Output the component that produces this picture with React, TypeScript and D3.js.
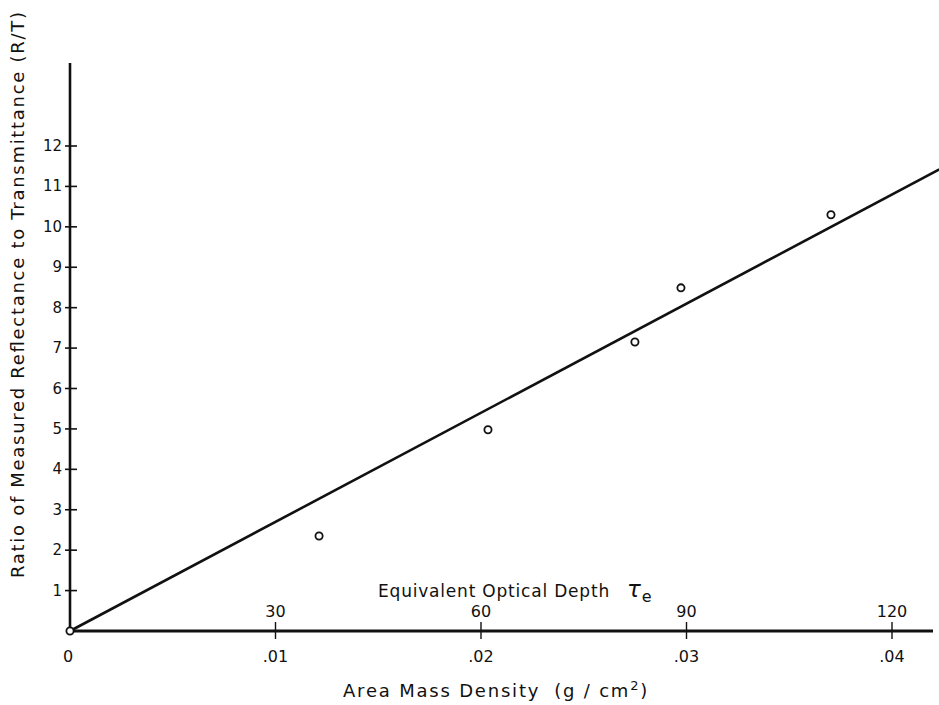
import React, { useEffect, useRef } from 'react';
import * as d3 from 'd3';

// measured R/T against area mass density (g/cm^2)
const massDensity = [0, 0.01212, 0.02034, 0.02749, 0.02973, 0.03703];
const ratioRT = [0, 2.35, 4.98, 7.15, 8.49, 10.3];

// fitted straight line through the origin
const fitMass = [0, 0.0423];
const fitRatio = [0, 11.42];

const yTicks = [1, 2, 3, 4, 5, 6, 7, 8, 9, 10, 11, 12];
const massTicks = [0.01, 0.02, 0.03, 0.04];
const massTickLabels = ['.01', '.02', '.03', '.04'];
const tauTickLabels = ['30', '60', '90', '120'];

export default function App() {
  const svgRef = useRef<SVGSVGElement>(null);

  useEffect(() => {
    if (!svgRef.current) return;
    const svg = d3.select(svgRef.current);
    svg.selectAll('*').remove();

    const width = 939;
    const height = 705;
    const font = '"DejaVu Sans", "Liberation Sans", sans-serif';

    const x = d3.scaleLinear().domain([0, 0.04]).range([70, 892]);
    const y = d3.scaleLinear().domain([0, 12]).range([631, 146]);

    svg.append('rect').attr('width', width).attr('height', height).attr('fill', '#fff');

    const g = svg.append('g').attr('fill', '#111').attr('stroke', '#111');

    // y axis
    g.append('line')
      .attr('x1', x(0)).attr('x2', x(0))
      .attr('y1', y(0)).attr('y2', 63)
      .attr('stroke-width', 2.6);

    // x axis
    g.append('line')
      .attr('x1', x(0)).attr('x2', 933)
      .attr('y1', y(0)).attr('y2', y(0))
      .attr('stroke-width', 3);

    // y ticks
    yTicks.forEach(t => {
      g.append('line')
        .attr('x1', x(0) - 5).attr('x2', x(0) + 7)
        .attr('y1', y(t)).attr('y2', y(t))
        .attr('stroke-width', 1.6);
      g.append('text')
        .attr('x', x(0) - 8)
        .attr('y', y(t) + 5)
        .attr('text-anchor', 'end')
        .attr('stroke', 'none')
        .attr('font-family', font)
        .attr('font-size', 15)
        .text(String(t));
    });

    // x ticks, mass below, optical depth above
    massTicks.forEach((t, i) => {
      g.append('line')
        .attr('x1', x(t)).attr('x2', x(t))
        .attr('y1', y(0) - 9).attr('y2', y(0) + 8)
        .attr('stroke-width', 1.4);
      g.append('text')
        .attr('x', x(t))
        .attr('y', y(0) + 31)
        .attr('text-anchor', 'middle')
        .attr('stroke', 'none')
        .attr('font-family', font)
        .attr('font-size', 16)
        .text(massTickLabels[i]);
      g.append('text')
        .attr('x', x(t))
        .attr('y', y(0) - 14)
        .attr('text-anchor', 'middle')
        .attr('stroke', 'none')
        .attr('font-family', font)
        .attr('font-size', 16)
        .text(tauTickLabels[i]);
    });

    g.append('text')
      .attr('x', x(0) - 2)
      .attr('y', y(0) + 31)
      .attr('text-anchor', 'middle')
      .attr('stroke', 'none')
      .attr('font-family', font)
      .attr('font-size', 16)
      .text('0');

    // fitted line
    const line = d3.line<number>()
      .x(d => x(fitMass[d]))
      .y(d => y(fitRatio[d]));
    g.append('path')
      .datum([0, 1])
      .attr('d', line)
      .attr('fill', 'none')
      .attr('stroke-width', 2.6);

    // measured points
    g.selectAll('circle.pt')
      .data(massDensity.map((m, i) => ({ m, r: ratioRT[i] })))
      .enter()
      .append('circle')
      .attr('class', 'pt')
      .attr('cx', d => x(d.m))
      .attr('cy', d => y(d.r))
      .attr('r', 3.6)
      .attr('fill', '#fff')
      .attr('stroke-width', 1.8);

    // axis titles
    g.append('text')
      .attr('transform', `translate(24,295) rotate(-90)`)
      .attr('text-anchor', 'middle')
      .attr('stroke', 'none')
      .attr('font-family', font)
      .attr('font-size', 18)
      .attr('textLength', 566)
      .attr('lengthAdjust', 'spacing')
      .text('Ratio of Measured Reflectance to Transmittance (R/T)');

    const xTitle = g.append('text')
      .attr('x', 343)
      .attr('y', 697)
      .attr('stroke', 'none')
      .attr('font-family', font)
      .attr('font-size', 18)
      .attr('letter-spacing', 1.8);
    xTitle.append('tspan').text('Area Mass Density');
    xTitle.append('tspan').attr('dx', 14).text('(g / cm');
    xTitle.append('tspan').attr('dy', -7).attr('font-size', 13).text('2');
    xTitle.append('tspan').attr('dy', 7).text(')');

    const tauTitle = g.append('text')
      .attr('x', 378)
      .attr('y', 597)
      .attr('stroke', 'none')
      .attr('font-family', font)
      .attr('font-size', 17)
      .attr('letter-spacing', 0.8);
    tauTitle.append('tspan').text('Equivalent Optical Depth');
    tauTitle.append('tspan').attr('x', 627).attr('font-style', 'italic').attr('font-size', 23).text('τ');
    tauTitle.append('tspan').attr('dy', 5).attr('font-size', 16).text('e');
  }, []);

  return (
    <svg
      ref={svgRef}
      width={939}
      height={705}
      viewBox="0 0 939 705"
      style={{ position: 'absolute', left: 0, top: 0, display: 'block' }}
    />
  );
}
